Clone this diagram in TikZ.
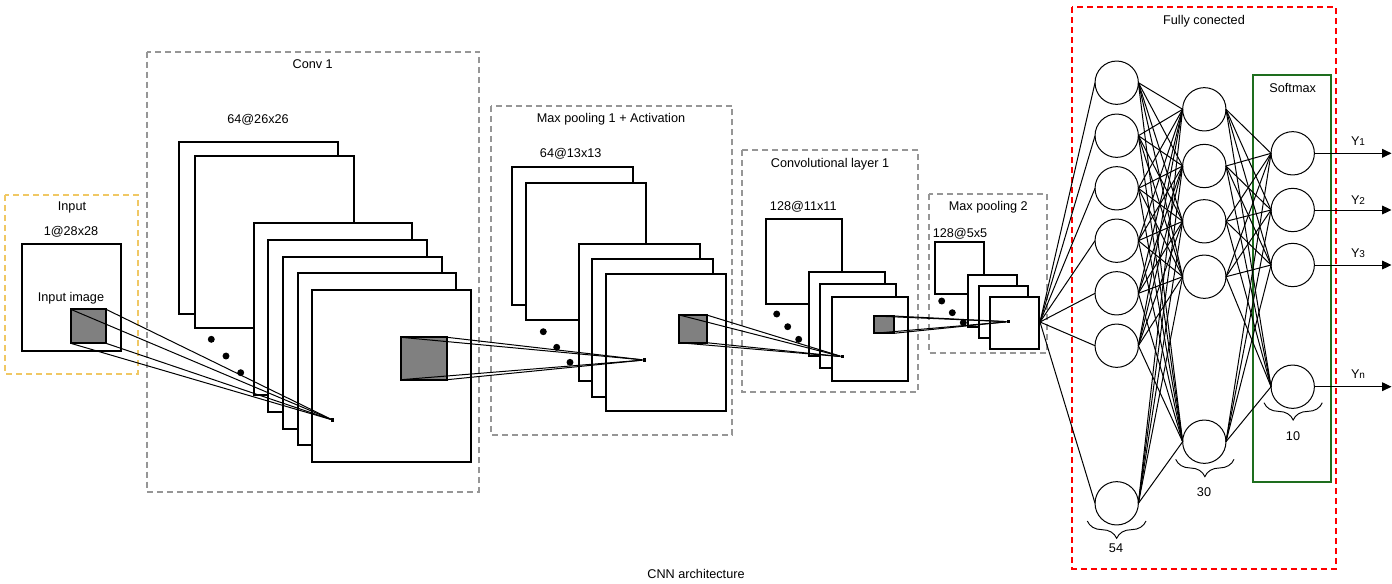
\documentclass[tikz,border=0pt]{standalone}
\usepackage{fontspec}
\setmainfont{Liberation Sans}
\usetikzlibrary{decorations.pathreplacing,arrows.meta}
\definecolor{boxgray}{RGB}{150,150,150}
\definecolor{ygold}{RGB}{240,200,100}
\definecolor{smgreen}{RGB}{30,110,30}
\definecolor{fgray}{RGB}{128,128,128}
\definecolor{fcred}{RGB}{255,0,0}
\newcommand\fmapsq[5]{\node[fmapbox,minimum width=#4*0.75pt,minimum height=#5*0.75pt] (#1) at (#2,#3) {};}
\newcommand\kernsq[5]{\node[kernbox,minimum width=#4*0.75pt,minimum height=#5*0.75pt] (#1) at (#2,#3) {};}
\begin{document}
\begin{tikzpicture}[x=0.75pt,y=-0.75pt,
  font=\fontsize{9.5}{11}\selectfont,
  grpbox/.style={draw=boxgray,line width=1.5pt,dash pattern=on 4.5pt off 3pt},
  fmapbox/.style={draw=black,fill=white,line width=1.5pt,anchor=north west,inner sep=0,outer sep=0},
  kernbox/.style={draw=black,fill=fgray,line width=1.5pt,anchor=north west,inner sep=0,outer sep=0},
  dotn/.style={circle,fill=black,inner sep=0,minimum size=5.2pt},
  ptn/.style={fill=black,inner sep=0,minimum size=2.6pt},
  lbl/.style={inner sep=0},
  conn/.style={line width=0.75pt},
  neuron/.style={circle,draw=black,fill=white,line width=0.75pt,minimum size=32.5pt,inner sep=0,outer sep=0},
  bracebelow/.style={decorate,decoration={brace,mirror,amplitude=13pt},line width=0.7pt}
]
\useasboundingbox (0,0) rectangle (1392,583);
\fill[white] (0,0) rectangle (1392,583);

% group boxes
\draw[draw=ygold,line width=1.1pt,dash pattern=on 4.5pt off 3pt] (5,195) rectangle (138,374);
\draw[grpbox] (147.3,51.7) rectangle (479,491.7);
\draw[grpbox] (491,106) rectangle (732.3,435);
\draw[grpbox] (741.7,150) rectangle (918.3,391.7);
\draw[grpbox] (929,194) rectangle (1046.7,353.3);
\draw[draw=fcred,line width=1.5pt,dash pattern=on 4.5pt off 3pt] (1072.3,7.3) rectangle (1336,568.7);
\draw[draw=smgreen,line width=1.6pt] (1253.3,75.3) rectangle (1331,481.7);

% input
\fmapsq{in0}{22}{244}{98.7}{106.7}
\node[lbl] (tinput) at (72,207) {Input};
\node[lbl] (tin28) at (71,232) {1@28x28};
\node[lbl] (tinimg) at (71,298) {Input image};
\kernsq{k0}{70.7}{309.3}{35.3}{34}

% conv 1
\node[lbl] (tconv) at (312.7,64.3) {Conv 1};
\node[lbl] (t26) at (258,120) {64@26x26};
\fmapsq{c1a}{179}{142.3}{158.7}{172}
\fmapsq{c1b}{195}{156.3}{158.7}{172}
\node[dotn] (d1a) at (211.3,339.3) {};
\node[dotn] (d1b) at (226,356) {};
\node[dotn] (d1c) at (240.7,372.7) {};
\fmapsq{c1c}{253.7}{223}{158.7}{172}
\fmapsq{c1d}{268.3}{240}{158.7}{172}
\fmapsq{c1e}{283}{256.7}{158.7}{172}
\fmapsq{c1f}{297.7}{273.3}{158.7}{172}
\fmapsq{c1g}{312.3}{289.7}{158.7}{172}
\kernsq{k1}{401}{337.3}{46}{42.4}
\node[ptn] (p1) at (332.7,420) {};

% max pooling 1
\node[lbl] (tmp1) at (611,119.3) {Max pooling 1 + Activation};
\node[lbl] (t13) at (570.7,153.3) {64@13x13};
\fmapsq{m1a}{512.3}{167.3}{120.5}{137.7}
\fmapsq{m1b}{525.7}{182.7}{120.5}{137.7}
\node[dotn] (d2a) at (543.3,331.7) {};
\node[dotn] (d2b) at (556.7,347.3) {};
\node[dotn] (d2c) at (570,362.3) {};
\fmapsq{m1c}{579}{243.7}{120.5}{137.7}
\fmapsq{m1d}{592.3}{259}{120.5}{137.7}
\fmapsq{m1e}{605.7}{273.7}{120.5}{137.7}
\kernsq{k2}{679.3}{315}{27.4}{27.7}
\node[ptn] (p2) at (644.3,360) {};

% conv layer 1
\node[lbl] (tcl1) at (830,164) {Convolutional layer 1};
\node[lbl] (t11) at (803.3,206.7) {128@11x11};
\fmapsq{c2a}{765.7}{219.3}{76}{84.5}
\node[dotn] (d3a) at (776.7,314) {};
\node[dotn] (d3b) at (787.7,326.7) {};
\node[dotn] (d3c) at (798.7,339.3) {};
\fmapsq{c2b}{809}{271.7}{76}{84}
\fmapsq{c2c}{820.3}{284}{76}{84}
\fmapsq{c2d}{831.7}{296.7}{76}{84}
\kernsq{k3}{874.3}{316}{19.4}{17.3}
\node[ptn] (p3) at (842.3,356.7) {};

% max pooling 2
\node[lbl] (tmp2) at (988.3,207.7) {Max pooling 2};
\node[lbl] (t5) at (960,234) {128@5x5};
\fmapsq{m2a}{935}{242.3}{48.5}{51.7}
\node[dotn] (d4a) at (941.7,301) {};
\node[dotn] (d4b) at (952.3,312.7) {};
\node[dotn] (d4c) at (963.3,322.7) {};
\fmapsq{m2b}{967.7}{275}{49}{51.5}
\fmapsq{m2c}{979}{286}{49}{51.5}
\fmapsq{m2d}{990}{297.3}{49}{51.5}
\node[ptn] (p4) at (1008.3,321.7) {};
\coordinate (f0) at (1040,322);

% receptive field lines
\foreach \c in {north west,north east,south east,south west}{
  \draw[conn] (k0.\c) -- (p1);
  \draw[conn] (k1.\c) -- (p2);
  \draw[conn] (k2.\c) -- (p3);
  \draw[conn] (k3.\c) -- (p4);
}

% fully connected
\node[lbl] (tfc) at (1204,21.3) {Fully conected};
\node[lbl] (tsm) at (1292.7,88.3) {Softmax};
\foreach \i/\y in {1/82.7,2/135.7,3/188.3,4/240.7,5/293.3,6/345.7,7/503.3}
  \node[neuron] (a\i) at (1116.7,\y) {};
\foreach \i/\y in {1/109.3,2/166,3/221.3,4/276.7,5/441.7}
  \node[neuron] (b\i) at (1204.3,\y) {};
\foreach \i/\y in {1/153.3,2/210,3/265,4/386.7}
  \node[neuron] (s\i) at (1292.7,\y) {};
\foreach \i in {1,...,7}{
  \draw[conn] (f0) -- (a\i.west);
  \foreach \j in {1,...,5} \draw[conn] (a\i.east) -- (b\j.west);
}
\foreach \i in {1,...,5}
  \foreach \j in {1,...,4} \draw[conn] (b\i.east) -- (s\j.west);

% outputs
\foreach \i/\y in {1/153.3,2/210,3/265,4/386.7}
  \coordinate (o\i) at (1391.5,\y);
\foreach \i in {1,...,4}
  \draw[line width=0.75pt,-{Triangle[length=7pt,width=6.5pt]}] (s\i.east) -- (o\i);
\node[lbl] (ty1) at (1358,141) {Y\raisebox{-0.4pt}{\fontsize{7.5}{8}\selectfont 1}};
\node[lbl] (ty2) at (1358,200) {Y\raisebox{-0.4pt}{\fontsize{7.5}{8}\selectfont 2}};
\node[lbl] (ty3) at (1358,253) {Y\raisebox{-0.4pt}{\fontsize{7.5}{8}\selectfont 3}};
\node[lbl] (tyn) at (1358,374) {Y\raisebox{-0.4pt}{\fontsize{7.5}{8}\selectfont n}};

% braces
\coordinate (br1l) at (1087.3,521);
\coordinate (br1r) at (1146,521);
\coordinate (br2l) at (1175.7,459.3);
\coordinate (br2r) at (1234,459.3);
\coordinate (br3l) at (1264,402.7);
\coordinate (br3r) at (1322.3,402.7);
\draw[bracebelow] (br1l) -- (br1r);
\draw[bracebelow] (br2l) -- (br2r);
\draw[bracebelow] (br3l) -- (br3r);
\node[lbl] (t54) at (1116,548.3) {54};
\node[lbl] (t30) at (1204,491.7) {30};
\node[lbl] (t10) at (1293,435.7) {10};

\node[lbl] (tcap) at (696,574) {CNN architecture};
\end{tikzpicture}
\end{document}
